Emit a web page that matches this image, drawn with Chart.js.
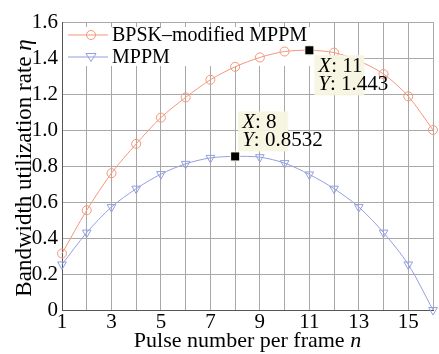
<!DOCTYPE html>
<html>
<head>
<meta charset="utf-8">
<script src="https://cdn.jsdelivr.net/npm/chart.js@4/dist/chart.umd.min.js"></script>
<style>
  body { margin: 0; background: #fff; }
  #wrap { width: 439px; height: 354px; }
</style>
</head>
<body>
<div id="wrap"><canvas id="myChart" width="439" height="354"></canvas></div>
<script>
// values
const pulseN = [1, 2, 3, 4, 5, 6, 7, 8, 9, 10, 11, 12, 13, 14, 15, 16];
const bpskMppm = [0.314, 0.554, 0.760, 0.923, 1.069, 1.181, 1.279, 1.351, 1.403, 1.436, 1.443, 1.430, 1.384, 1.311, 1.187, 1.000];
const mppm = [0.253, 0.430, 0.572, 0.674, 0.755, 0.812, 0.845, 0.8532, 0.849, 0.816, 0.753, 0.674, 0.572, 0.430, 0.253, 0.000];
const seriesNames = ['BPSK\u2013modified MPPM', 'MPPM'];
const xTicks = [1, 3, 5, 7, 9, 11, 13, 15];
const yTicks = [0, 0.2, 0.4, 0.6, 0.8, 1.0, 1.2, 1.4, 1.6];
// data tips: [series index, n]
const tips = [[0, 11], [1, 8]];

const orange = '#f5977a';
const blue = '#939fe2';
const serif = '"Liberation Serif", serif';

const extras = {
	id: 'extras',
	beforeDatasetsDraw(chart) {
		const ctx = chart.ctx;
		const a = chart.chartArea;
		// legend box hides the grid
		ctx.save();
		ctx.fillStyle = '#fff';
		ctx.fillRect(a.left + 1, a.top + 5, 264, 39);
		ctx.restore();
	},
	afterDatasetsDraw(chart) {
		const ctx = chart.ctx;
		const a = chart.chartArea;
		const xs = chart.scales.x, ys = chart.scales.y;
		ctx.save();
		// legend
		const rows = [a.top + 13, a.top + 35];
		chart.data.datasets.forEach((ds, i) => {
			const y = rows[i];
			ctx.strokeStyle = ds.borderColor;
			ctx.lineWidth = 1;
			ctx.beginPath();
			ctx.moveTo(a.left + 6, y);
			ctx.lineTo(a.left + 46, y);
			ctx.stroke();
			ctx.beginPath();
			if (i == 0) {
				ctx.arc(a.left + 29, y, 4.5, 0, Math.PI * 2);
			} else {
				ctx.moveTo(a.left + 24, y - 3.5);
				ctx.lineTo(a.left + 34, y - 3.5);
				ctx.lineTo(a.left + 29, y + 4.5);
				ctx.closePath();
			}
			ctx.stroke();
			ctx.fillStyle = '#000';
			ctx.font = '20px ' + serif;
			ctx.textBaseline = 'middle';
			ctx.textAlign = 'left';
			ctx.fillText(ds.label, a.left + 50, y + 1);
		});

		// data tips
		tips.forEach(([si, n], k) => {
			const val = chart.data.datasets[si].data[n - 1].y;
			const px = xs.getPixelForValue(n);
			const py = ys.getPixelForValue(val);
			let bx, by;
			if (k == 0) { bx = px + 5; by = py + 5; }
			else { bx = px + 3; by = py - 45; }
			ctx.fillStyle = 'rgba(246,246,226,0.95)';
			ctx.fillRect(bx, by, 50, 40);
			ctx.fillStyle = '#000';
			ctx.textBaseline = 'middle';
			const lines = [['X', ': ' + n], ['Y', ': ' + val]];
			lines.forEach((ln, j) => {
				const ty = by + 11 + j * 18;
				ctx.font = 'italic 21px ' + serif;
				ctx.fillText(ln[0], bx + 4, ty);
				const w = ctx.measureText(ln[0]).width;
				ctx.font = '21px ' + serif;
				ctx.fillText(ln[1], bx + 4 + w, ty);
			});
			ctx.fillStyle = 'rgba(246,246,226,1)';
			ctx.fillRect(px - 5, py - 5, 10, 10);
			ctx.fillStyle = '#000';
			ctx.fillRect(px - 4, py - 4, 8, 8);
		});
		ctx.restore();
	},
	afterDraw(chart) {
		const ctx = chart.ctx;
		const a = chart.chartArea;
		ctx.save();
		ctx.fillStyle = '#000';
		ctx.textBaseline = 'alphabetic';
		// x title
		const xt1 = 'Pulse number per frame ';
		ctx.font = 'italic 22px ' + serif;
		const wn = ctx.measureText('n').width;
		ctx.font = '22px ' + serif;
		const w1 = ctx.measureText(xt1).width;
		let x0 = (a.left + a.right) / 2 - (w1 + wn) / 2;
		ctx.fillText(xt1, x0, 347);
		ctx.font = 'italic 22px ' + serif;
		ctx.fillText('n', x0 + w1, 347);
		// y title
		ctx.translate(31, 168);
		ctx.rotate(-Math.PI / 2);
		const yt1 = 'Bandwidth utilization rate ';
		ctx.font = '23px ' + serif;
		const wy1 = ctx.measureText(yt1).width;
		ctx.font = 'italic 23px ' + serif;
		const we = ctx.measureText('\u03b7').width;
		x0 = -(wy1 + we) / 2;
		ctx.font = '23px ' + serif;
		ctx.fillText(yt1, x0, 0);
		ctx.font = 'italic 23px ' + serif;
		ctx.fillText('\u03b7', x0 + wy1, 0);
		ctx.restore();
	}
};

const ctx = document.getElementById('myChart').getContext('2d');
const myChart = new Chart(ctx, {
	type: 'line',
	data: {
		datasets: [{
			label: seriesNames[0],
			data: pulseN.map((n, i) => ({ x: n, y: bpskMppm[i] })),
			borderColor: orange,
			borderWidth: 1,
			pointStyle: 'circle',
			pointRadius: 4.5,
			pointBorderWidth: 1,
			pointBorderColor: orange,
			pointBackgroundColor: 'rgba(0,0,0,0)',
			tension: 0.3,
			clip: 8,
		}, {
			label: seriesNames[1],
			data: pulseN.map((n, i) => ({ x: n, y: mppm[i] })),
			borderColor: blue,
			borderWidth: 1,
			pointStyle: 'triangle',
			pointRotation: 180,
			pointRadius: 5,
			pointBorderWidth: 1,
			pointBorderColor: blue,
			pointBackgroundColor: 'rgba(0,0,0,0)',
			tension: 0.3,
			clip: 8,
		}]
	},
	options: {
		responsive: false,
		animation: false,
		layout: { padding: { top: 22, right: 1, left: 0, bottom: 0 } },
		plugins: {
			legend: { display: false },
			tooltip: { enabled: false },
		},
		scales: {
			x: {
				type: 'linear',
				min: 1,
				max: 16,
				afterFit: s => { s.height = 44; },
				afterBuildTicks: s => { s.ticks = pulseN.map(v => ({ value: v })); },
				ticks: {
					autoSkip: false,
					maxRotation: 0,
					color: '#000',
					padding: 0,
					font: { family: serif, size: 21 },
					callback: v => xTicks.includes(v) ? String(v) : '',
				},
				grid: { color: '#a8a8a8', drawTicks: false },
				border: { color: '#555' },
			},
			y: {
				min: 0,
				max: 1.6,
				afterFit: s => { s.width = 62; },
				afterBuildTicks: s => { s.ticks = yTicks.map(v => ({ value: v })); },
				ticks: {
					color: '#000',
					padding: 4,
					font: { family: serif, size: 21 },
					callback: v => v == 0 ? '0' : v.toFixed(1),
				},
				grid: { color: '#a8a8a8', drawTicks: false },
				border: { color: '#555' },
			}
		}
	},
	plugins: [extras]
});
</script>
</body>
</html>
